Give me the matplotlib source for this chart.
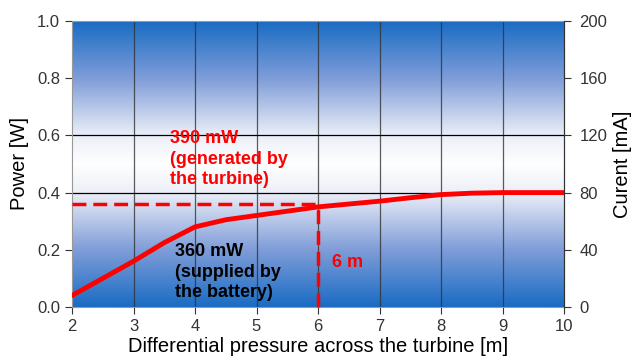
import matplotlib.pyplot as plt
import numpy as np
from matplotlib.colors import LinearSegmentedColormap

plt.rcParams['font.family'] = ['Liberation Sans', 'DejaVu Sans']

# data
pressure = [2, 2.5, 3, 3.5, 4, 4.5, 5, 5.5, 6, 6.5, 7, 7.5, 8, 8.5, 9, 10]
power = [0.04, 0.10, 0.16, 0.225, 0.28, 0.305, 0.32, 0.335, 0.35, 0.36, 0.37, 0.382, 0.393, 0.398, 0.40, 0.40]
x_ticks = [2, 3, 4, 5, 6, 7, 8, 9, 10]
power_ticks = [0.0, 0.2, 0.4, 0.6, 0.8, 1.0]
current_ticks = [0, 40, 80, 120, 160, 200]
battery_power = 0.36
operating_pressure = 6


def main():
    fig = plt.figure(figsize=(6.4, 3.63), dpi=100)
    ax = fig.add_axes([72 / 640, 1 - 307 / 363, 492 / 640, 286 / 363])

    # blue - white - blue background
    cmap = LinearSegmentedColormap.from_list('bg', [
        (0.0, '#1a6cc4'), (0.2, '#7f9dd8'), (0.4, '#eceff8'),
        (0.5, '#ffffff'), (0.6, '#eceff8'), (0.8, '#7f9dd8'), (1.0, '#1a6cc4')])
    grad = np.linspace(0, 1, 256).reshape(-1, 1)
    ax.imshow(grad, cmap=cmap, extent=[2, 10, 0, 1], aspect='auto', origin='lower', zorder=0)

    for x in x_ticks[1:-1]:
        ax.axvline(x, color='#333333', lw=0.9, alpha=0.8, zorder=1)
    for y in [0.4, 0.6]:
        ax.axhline(y, color='black', lw=0.9, zorder=1)

    ax.plot(pressure, power, color='#ff0000', lw=3.5, zorder=3, solid_capstyle='round')
    ax.plot([2, operating_pressure], [battery_power, battery_power], color='#ff0000',
            lw=2.5, ls=(0, (4, 2)), zorder=3)
    ax.plot([operating_pressure, operating_pressure], [0, battery_power], color='#ff0000',
            lw=2.5, ls=(0, (4, 2)), zorder=3, clip_on=False)

    ax.text(3.6, 0.62, '390 mW\n(generated by\nthe turbine)', color='#ff0000',
            fontsize=13, fontweight='bold', va='top', linespacing=1.3)
    ax.text(3.67, 0.225, '360 mW\n(supplied by\nthe battery)', color='black',
            fontsize=13, fontweight='bold', va='top', linespacing=1.3)
    ax.text(6.22, 0.14, '6 m', color='#ff0000', fontsize=13, fontweight='bold')

    ax.set_xlim(2, 10)
    ax.set_ylim(0, 1)
    ax.set_xticks(x_ticks)
    ax.set_yticks(power_ticks)
    ax.set_yticklabels(['%.1f' % t for t in power_ticks])
    ax.tick_params(colors='#333333', labelsize=12, length=5)
    ax.set_xlabel('Differential pressure across the turbine [m]', fontsize=14.5, labelpad=2)
    ax.set_ylabel('Power [W]', fontsize=14.5, labelpad=6)
    for s in ['left', 'top', 'bottom']:
        ax.spines[s].set_color('#999999')
    ax.spines['right'].set_color('#333333')

    ax2 = ax.twinx()
    ax2.set_ylim(0, 200)
    ax2.set_yticks(current_ticks)
    ax2.tick_params(colors='#333333', labelsize=12, length=5, pad=6)
    ax2.set_ylabel('Curent [mA]', fontsize=14.5, labelpad=4)
    for s in ['left', 'top', 'bottom']:
        ax2.spines[s].set_visible(False)
    ax2.spines['right'].set_color('#333333')

    plt.savefig('out.png', dpi=100)


if __name__ == '__main__':
    main()
